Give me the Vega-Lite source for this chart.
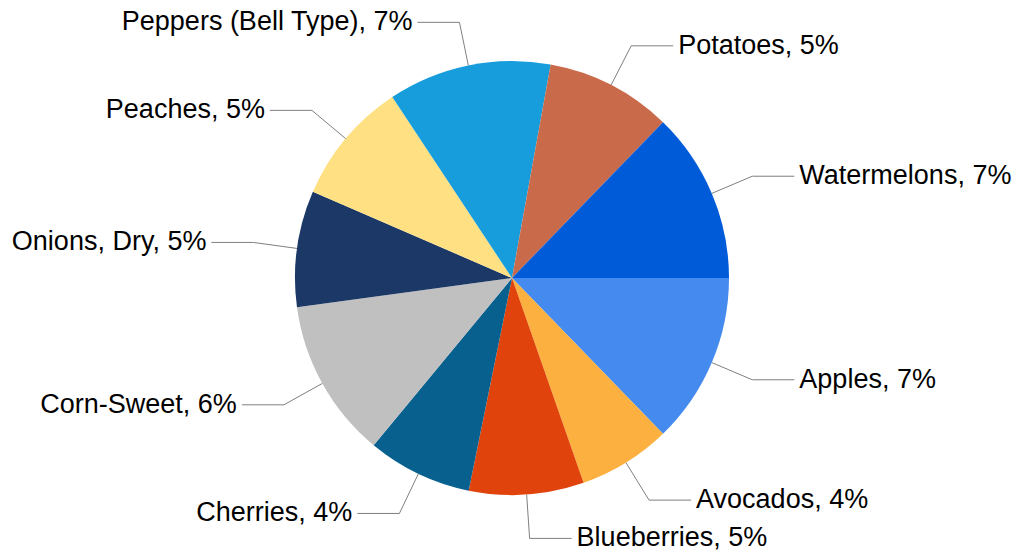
{
  "$schema": "https://vega.github.io/schema/vega-lite/v6.json",
  "autosize": {"type": "fit", "contains": "padding"},
  "width": 1016,
  "height": 555,
  "padding": {"left": 8, "top": 1, "right": 0, "bottom": 0},
  "background": "white",
  "config": {"view": {"stroke": null}},
  "data": {
    "values": [
      {"order": 1, "name": "Apples", "label": "Apples, 7%", "value": 12.75},
      {"order": 2, "name": "Avocados", "label": "Avocados, 4%", "value": 6.9},
      {"order": 3, "name": "Blueberries", "label": "Blueberries, 5%", "value": 8.55},
      {"order": 4, "name": "Cherries", "label": "Cherries, 4%", "value": 7.8},
      {"order": 5, "name": "Corn-Sweet", "label": "Corn-Sweet, 6%", "value": 11.85},
      {"order": 6, "name": "Onions, Dry", "label": "Onions, Dry, 5%", "value": 8.65},
      {"order": 7, "name": "Peaches", "label": "Peaches, 5%", "value": 9.2},
      {"order": 8, "name": "Peppers (Bell Type)", "label": "Peppers (Bell Type), 7%", "value": 12.15},
      {"order": 9, "name": "Potatoes", "label": "Potatoes, 5%", "value": 9.4},
      {"order": 10, "name": "Watermelons", "label": "Watermelons, 7%", "value": 12.75}
    ]
  },
  "transform": [
    {"stack": "value", "groupby": [], "sort": [{"field": "order", "order": "ascending"}], "as": ["v0", "v1"]},
    {"joinaggregate": [{"op": "sum", "field": "value", "as": "total"}]},
    {"calculate": "PI * (datum.v0 + datum.v1) / datum.total", "as": "a"},
    {"calculate": "cos(datum.a) >= 0 ? 1 : -1", "as": "side"},
    {"calculate": "217 * cos(datum.a)", "as": "ex"},
    {"calculate": "-217 * sin(datum.a)", "as": "ey"},
    {"calculate": "261 * cos(datum.a)", "as": "bx"},
    {"calculate": "-261 * sin(datum.a)", "as": "by"},
    {"calculate": "datum.bx + 42 * datum.side", "as": "cx"},
    {"calculate": "datum.cx + 5 * datum.side", "as": "tx"}
  ],
  "layer": [
    {
      "mark": {"type": "arc", "outerRadius": 217},
      "encoding": {
        "theta": {"field": "value", "type": "quantitative", "stack": true, "scale": {"range": [1.5707963, 7.8539816]}},
        "order": {"field": "order", "type": "quantitative"},
        "color": {
          "field": "name",
          "type": "nominal",
          "legend": null,
          "scale": {
            "domain": ["Apples", "Avocados", "Blueberries", "Cherries", "Corn-Sweet", "Onions, Dry", "Peaches", "Peppers (Bell Type)", "Potatoes", "Watermelons"],
            "range": ["#448AEF", "#FBB040", "#E0440C", "#08608E", "#C0C0C0", "#1B3866", "#FFE083", "#179CDC", "#C96A4A", "#005BD9"]
          }
        }
      }
    },
    {
      "mark": {"type": "rule", "color": "#7F7F7F", "strokeWidth": 1},
      "encoding": {
        "x": {"field": "ex", "type": "quantitative", "scale": {"domain": [-504, 504], "nice": false, "zero": false}, "axis": null},
        "y": {"field": "ey", "type": "quantitative", "scale": {"domain": [-277, 277], "nice": false, "zero": false}, "axis": null},
        "x2": {"field": "bx"},
        "y2": {"field": "by"}
      }
    },
    {
      "mark": {"type": "rule", "color": "#7F7F7F", "strokeWidth": 1},
      "encoding": {
        "x": {"field": "bx", "type": "quantitative"},
        "y": {"field": "by", "type": "quantitative"},
        "x2": {"field": "cx"},
        "y2": {"field": "by"}
      }
    },
    {
      "transform": [{"filter": "datum.side > 0"}],
      "mark": {"type": "text", "align": "left", "baseline": "middle", "font": "Liberation Sans", "fontSize": 27, "color": "#000000"},
      "encoding": {
        "x": {"field": "tx", "type": "quantitative"},
        "y": {"field": "by", "type": "quantitative"},
        "text": {"field": "label"}
      }
    },
    {
      "transform": [{"filter": "datum.side < 0"}],
      "mark": {"type": "text", "align": "right", "baseline": "middle", "font": "Liberation Sans", "fontSize": 27, "color": "#000000"},
      "encoding": {
        "x": {"field": "tx", "type": "quantitative"},
        "y": {"field": "by", "type": "quantitative"},
        "text": {"field": "label"}
      }
    }
  ]
}
